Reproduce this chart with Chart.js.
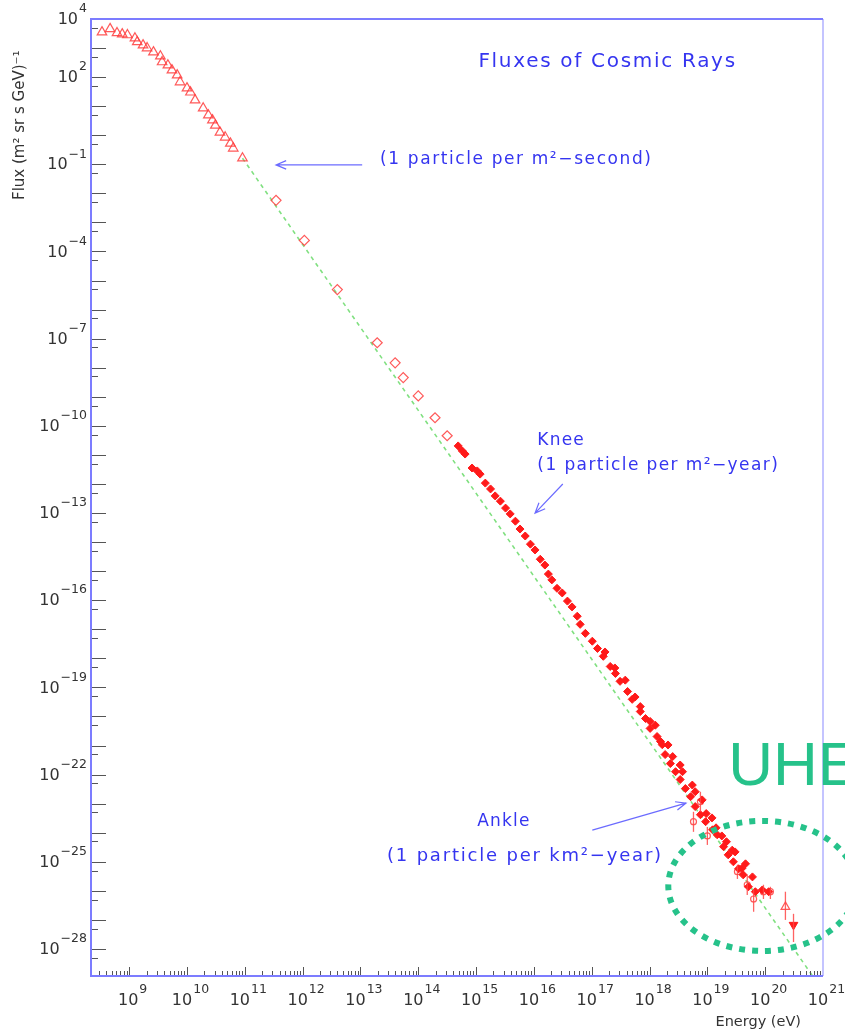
<!DOCTYPE html>
<html>
<head>
<meta charset="utf-8">
<title>Fluxes of Cosmic Rays</title>
<script src="https://cdn.jsdelivr.net/npm/chart.js@4.4.0/dist/chart.umd.min.js"></script>
<style>
  html, body { margin: 0; padding: 0; background: #fff; }
  #wrap { position: relative; width: 845px; height: 1033px; }
</style>
</head>
<body>
<div id="wrap"><canvas id="flux-chart"></canvas></div>
<script>
// all values are log10 (energy in eV, flux in (m^2 sr s GeV)^-1)
const triLogE = [8.53, 8.67, 8.79, 8.88, 8.97, 9.10, 9.14, 9.24, 9.31, 9.42, 9.54, 9.57, 9.67, 9.74,
                 9.83, 9.88, 10.00, 10.06, 10.14, 10.28, 10.37, 10.44, 10.49, 10.57, 10.66, 10.75, 10.80, 10.96];
const triLogF = [3.55, 3.66, 3.52, 3.48, 3.45, 3.34, 3.21, 3.10, 3.00, 2.86, 2.72, 2.52, 2.41, 2.24,
                 2.07, 1.83, 1.62, 1.48, 1.21, 0.93, 0.69, 0.52, 0.34, 0.10, -0.07, -0.28, -0.45, -0.79];

const diaLogE = [11.54, 12.03, 12.60, 13.29, 13.60, 13.74, 14.00, 14.29, 14.50];
const diaLogF = [-2.24, -3.62, -5.31, -7.14, -7.83, -8.34, -8.97, -9.72, -10.34];

const airLogE = [14.69, 14.76, 14.81, 14.93, 15.02, 15.07, 15.16, 15.25, 15.33, 15.42, 15.51, 15.59,
                 15.68, 15.76, 15.85, 15.94, 16.02, 16.11, 16.19, 16.25, 16.31, 16.40, 16.49, 16.58,
                 16.66, 16.75, 16.80, 16.89, 17.01,
                 17.10, 17.20, 17.32, 17.41, 17.49, 17.62, 17.70, 17.84, 17.93, 18.01, 18.13, 18.22,
                 18.27, 18.36, 18.45, 18.53, 18.62, 18.71, 18.79, 18.88, 18.97, 19.09, 19.17, 19.28,
                 19.36, 19.45, 19.54, 19.62, 19.71, 19.83, 19.95, 20.06];
const airLogF = [-10.69, -10.86, -10.97, -11.45, -11.55, -11.66, -11.97, -12.17, -12.41, -12.59, -12.83, -13.03,
                 -13.28, -13.55, -13.79, -14.07, -14.27, -14.59, -14.79, -15.10, -15.30, -15.59, -15.75, -16.03,
                 -16.23, -16.55, -16.83, -17.14, -17.41,
                 -17.66, -17.93, -18.28, -18.52, -18.79, -19.14, -19.41, -19.83, -20.07, -20.41, -20.69, -20.97,
                 -21.31, -21.62, -21.90, -22.17, -22.48, -22.76, -23.10, -23.38, -23.62, -23.90, -24.07, -24.48,
                 -24.76, -25.00, -25.24, -25.45, -25.86, -26.03, -25.97, -26.03];

// second experiment overlapping the band above 1e17 eV
const bandLogE = [17.23, 17.40, 17.58, 17.75, 17.84, 18.01, 18.10, 18.19, 18.32, 18.40, 18.53, 18.57,
                  18.74, 18.79, 18.91, 18.98, 19.08, 19.15, 19.25, 19.33, 19.43, 19.48, 19.60, 19.66, 19.78];
const bandLogF = [-17.78, -18.33, -18.75, -19.33, -19.66, -20.17, -20.30, -20.86, -20.98, -21.38, -21.67, -21.90,
                  -22.36, -22.59, -22.87, -23.34, -23.49, -23.83, -24.11, -24.31, -24.60, -24.66, -25.22, -25.07, -25.52];

// highest energies, with error bars
const uheLogE  = [18.76, 18.88, 19.00, 19.52, 19.69, 19.80, 19.97, 20.09];
const uheLogF  = [-23.62, -22.93, -24.11, -25.34, -25.79, -26.28, -26.03, -26.03];
const uheLogHi = [-23.28, -22.59, -23.80, -25.10, -25.45, -25.93, -25.79, -25.86];
const uheLogLo = [-23.97, -23.28, -24.42, -25.59, -26.14, -26.72, -26.28, -26.28];

const agLogE = [20.35], agLogF = [-26.55], agLogHi = [-26.03], agLogLo = [-27.00];
const hiLogE = [20.49], hiLogF = [-27.17], hiLogHi = [-26.79], hiLogLo = [-27.76];

// E^-2.85 reference line
const fitLogE = [10.96, 20.95];
const fitLogF = [-0.79, -29.30];

const xLabelExps = [9, 10, 11, 12, 13, 14, 15, 16, 17, 18, 19, 20, 21];
const yLabelExps = [4, 2, -1, -4, -7, -10, -13, -16, -19, -22, -25, -28];

const pts = (le, lf) => le.map((e, i) => ({ x: 10 ** e, y: 10 ** lf[i] }));

const FONT = '"DejaVu Sans", sans-serif';
const BLUE = '#3535f0';
const UHE_GREEN = '#26c28a';

// annotations, anchored in log data coordinates
const notes = [
    { text: 'Fluxes of Cosmic Rays', e: 15.04, f: 2.52, size: 20, spacing: 1.7 },
    { text: '(1 particle per m\u00b2\u2212second)', e: 13.34, f: -0.85, size: 17, spacing: 1.6 },
    { text: 'Knee', e: 16.06, f: -10.49, size: 17, spacing: 1.2 },
    { text: '(1 particle per m\u00b2\u2212year)', e: 16.06, f: -11.38, size: 17, spacing: 1.4 },
    { text: 'Ankle', e: 15.02, f: -23.63, size: 17, spacing: 1.2 },
    { text: '(1 particle per km\u00b2\u2212year)', e: 13.46, f: -24.80, size: 18, spacing: 1.8 }
];
const arrows = [
    { e1: 13.03, f1: -1.02, e2: 11.54, f2: -1.02 },
    { e1: 16.50, f1: -12.00, e2: 16.02, f2: -13.00 },
    { e1: 17.01, f1: -23.91, e2: 18.63, f2: -22.98 }
];

function drawPower(ctx, exp, x, y, align) {
    const base = '10';
    const sup = String(exp).replace('-', '\u2212');
    ctx.font = '16px ' + FONT;
    const wb = ctx.measureText(base).width;
    ctx.font = '12.5px ' + FONT;
    const ws = ctx.measureText(sup).width;
    const w = wb + ws;
    let left = align === 'right' ? x - w : x - w / 2;
    ctx.fillStyle = '#333';
    ctx.textAlign = 'left';
    ctx.textBaseline = 'middle';
    ctx.font = '16px ' + FONT;
    ctx.fillText(base, left, y);
    ctx.font = '12.5px ' + FONT;
    ctx.fillText(sup, left + wb + 1, y - 11);
}

const rootFrame = {
    id: 'rootFrame',
    afterDatasetsDraw(chart) {
        const { ctx, scales: { x, y } } = chart;
        // error bars
        const bars = [[uheLogE, uheLogHi, uheLogLo], [agLogE, agLogHi, agLogLo], [hiLogE, hiLogHi, hiLogLo]];
        ctx.save();
        ctx.strokeStyle = 'rgba(255,70,70,0.85)';
        ctx.lineWidth = 1.3;
        bars.forEach(([le, hi, lo]) => {
            le.forEach((e, i) => {
                const px = x.getPixelForValue(10 ** e);
                ctx.beginPath();
                ctx.moveTo(px, y.getPixelForValue(10 ** hi[i]));
                ctx.lineTo(px, y.getPixelForValue(10 ** lo[i]));
                ctx.stroke();
            });
        });
        ctx.restore();
    },
    afterDraw(chart) {
        const { ctx, chartArea: a, scales: { x, y } } = chart;
        ctx.save();

        // tick marks inside the frame
        ctx.strokeStyle = '#555';
        ctx.lineWidth = 1;
        for (let d = 8; d <= 20; d++) {
            for (let m = 1; m <= 9; m++) {
                const v = m * 10 ** d;
                if (v < x.min || v > x.max) continue;
                const px = Math.round(x.getPixelForValue(v)) + 0.5;
                const len = m === 1 ? 9 : 5;
                ctx.beginPath();
                ctx.moveTo(px, a.bottom);
                ctx.lineTo(px, a.bottom - len);
                ctx.stroke();
            }
        }
        const px21 = Math.round(x.getPixelForValue(1e21)) - 0.5;
        ctx.beginPath(); ctx.moveTo(px21, a.bottom); ctx.lineTo(px21, a.bottom - 9); ctx.stroke();

        for (let d = 4; d >= -29; d--) {
            [[10 ** d, 15], [5 * 10 ** (d - 1), 7]].forEach(([v, len]) => {
                if (v < y.min || v > y.max) return;
                const py = Math.round(y.getPixelForValue(v)) + 0.5;
                ctx.beginPath();
                ctx.moveTo(a.left, py);
                ctx.lineTo(a.left + len, py);
                ctx.stroke();
            });
        }

        // frame
        ctx.lineWidth = 2;
        ctx.strokeStyle = '#c4c4ff';
        ctx.beginPath(); ctx.moveTo(a.right, a.top); ctx.lineTo(a.right, a.bottom); ctx.stroke();
        ctx.strokeStyle = '#7c7cff';
        ctx.beginPath();
        ctx.moveTo(a.right, a.top); ctx.lineTo(a.left, a.top);
        ctx.lineTo(a.left, a.bottom); ctx.lineTo(a.right, a.bottom);
        ctx.stroke();

        // tick labels
        x.ticks.forEach(t => {
            const e = Math.round(Math.log10(t.value));
            drawPower(ctx, e, x.getPixelForValue(t.value) + 3, a.bottom + 25, 'center');
        });
        y.ticks.forEach(t => {
            const e = Math.round(Math.log10(t.value));
            drawPower(ctx, e, a.left - 5, y.getPixelForValue(t.value) + 1, 'right');
        });

        // axis titles
        ctx.fillStyle = '#333';
        ctx.font = '14.5px ' + FONT;
        ctx.textAlign = 'right';
        ctx.textBaseline = 'middle';
        ctx.fillText('Energy (eV)', a.right - 22, a.bottom + 46);
        ctx.save();
        ctx.translate(20, 200);
        ctx.rotate(-Math.PI / 2);
        ctx.textAlign = 'left';
        ctx.font = '15px ' + FONT;
        ctx.fillText('Flux (m\u00b2 sr s GeV)\u207b\u00b9', 0, 0);
        ctx.restore();

        // blue notes and arrows
        ctx.fillStyle = BLUE;
        ctx.textAlign = 'left';
        ctx.textBaseline = 'middle';
        notes.forEach(n => {
            ctx.font = n.size + 'px ' + FONT;
            ctx.letterSpacing = n.spacing + 'px';
            ctx.fillText(n.text, x.getPixelForValue(10 ** n.e), y.getPixelForValue(10 ** n.f));
        });
        ctx.letterSpacing = '0px';
        ctx.strokeStyle = 'rgba(70,70,255,0.8)';
        ctx.lineWidth = 1.2;
        arrows.forEach(ar => {
            const x1 = x.getPixelForValue(10 ** ar.e1), y1 = y.getPixelForValue(10 ** ar.f1);
            const x2 = x.getPixelForValue(10 ** ar.e2), y2 = y.getPixelForValue(10 ** ar.f2);
            const ang = Math.atan2(y2 - y1, x2 - x1);
            ctx.beginPath();
            ctx.moveTo(x1, y1); ctx.lineTo(x2, y2);
            ctx.moveTo(x2 - 11 * Math.cos(ang - 0.4), y2 - 11 * Math.sin(ang - 0.4));
            ctx.lineTo(x2, y2);
            ctx.lineTo(x2 - 11 * Math.cos(ang + 0.4), y2 - 11 * Math.sin(ang + 0.4));
            ctx.stroke();
        });

        // UHE overlay
        ctx.fillStyle = UHE_GREEN;
        ctx.font = '62px "Liberation Sans", Arial, sans-serif';
        ctx.fillText('UHE', x.getPixelForValue(10 ** 19.36), y.getPixelForValue(10 ** -21.77));
        ctx.strokeStyle = UHE_GREEN;
        ctx.lineWidth = 6;
        ctx.setLineDash([6, 7]);
        ctx.beginPath();
        ctx.ellipse(x.getPixelForValue(10 ** 19.95), y.getPixelForValue(10 ** -25.83), 94, 65, 0, 0, Math.PI * 2);
        ctx.stroke();

        ctx.restore();
    }
};

const openRed = 'rgba(255,60,60,0.85)';

new Chart(document.getElementById('flux-chart'), {
    type: 'scatter',
    data: {
        datasets: [
            {
                label: 'low energy',
                data: pts(triLogE, triLogF),
                pointStyle: 'triangle', pointRadius: 5.5,
                borderColor: openRed, backgroundColor: 'rgba(0,0,0,0)', borderWidth: 1.2
            },
            {
                label: 'direct',
                data: pts(diaLogE, diaLogF),
                pointStyle: 'rectRot', pointRadius: 5,
                borderColor: openRed, backgroundColor: 'rgba(0,0,0,0)', borderWidth: 1.2
            },
            {
                label: 'air showers',
                data: pts(airLogE, airLogF),
                pointStyle: 'rectRot', pointRadius: 4,
                borderColor: '#ff1a1a', backgroundColor: '#ff1a1a', borderWidth: 1
            },
            {
                label: 'air showers 2',
                data: pts(bandLogE, bandLogF),
                pointStyle: 'rectRot', pointRadius: 4,
                borderColor: '#ff1a1a', backgroundColor: '#ff1a1a', borderWidth: 1
            },
            {
                label: 'uhe',
                data: pts(uheLogE, uheLogF),
                pointStyle: 'circle', pointRadius: 3,
                borderColor: openRed, backgroundColor: 'rgba(0,0,0,0)', borderWidth: 1.2
            },
            {
                label: 'agasa',
                data: pts(agLogE, agLogF),
                pointStyle: 'triangle', pointRadius: 5,
                borderColor: openRed, backgroundColor: 'rgba(0,0,0,0)', borderWidth: 1.2
            },
            {
                label: 'highest',
                data: pts(hiLogE, hiLogF),
                pointStyle: 'triangle', rotation: 180, pointRadius: 5,
                borderColor: '#ff1a1a', backgroundColor: '#ff1a1a', borderWidth: 1
            },
            {
                type: 'line',
                label: 'E^-2.85',
                data: pts(fitLogE, fitLogF),
                borderColor: '#80e080', borderWidth: 1.6, borderDash: [4, 4],
                pointRadius: 0, fill: false, order: 10
            }
        ]
    },
    options: {
        responsive: true,
        maintainAspectRatio: false,
        animation: false,
        layout: { padding: { top: 19, right: 22, left: 0, bottom: 0 } },
        plugins: { legend: { display: false }, tooltip: { enabled: false } },
        scales: {
            x: {
                type: 'logarithmic',
                min: 10 ** 8.34,
                max: 1e21,
                afterBuildTicks: s => { s.ticks = xLabelExps.map(e => ({ value: 10 ** e })); },
                afterFit: s => { s.height = 57; },
                ticks: { display: false },
                grid: { display: false },
                border: { display: false }
            },
            y: {
                type: 'logarithmic',
                min: 10 ** -28.93,
                max: 1e4,
                afterBuildTicks: s => { s.ticks = yLabelExps.map(e => ({ value: 10 ** e })); },
                afterFit: s => { s.width = 91; },
                ticks: { display: false },
                grid: { display: false },
                border: { display: false }
            }
        }
    },
    plugins: [rootFrame]
});
</script>
</body>
</html>
